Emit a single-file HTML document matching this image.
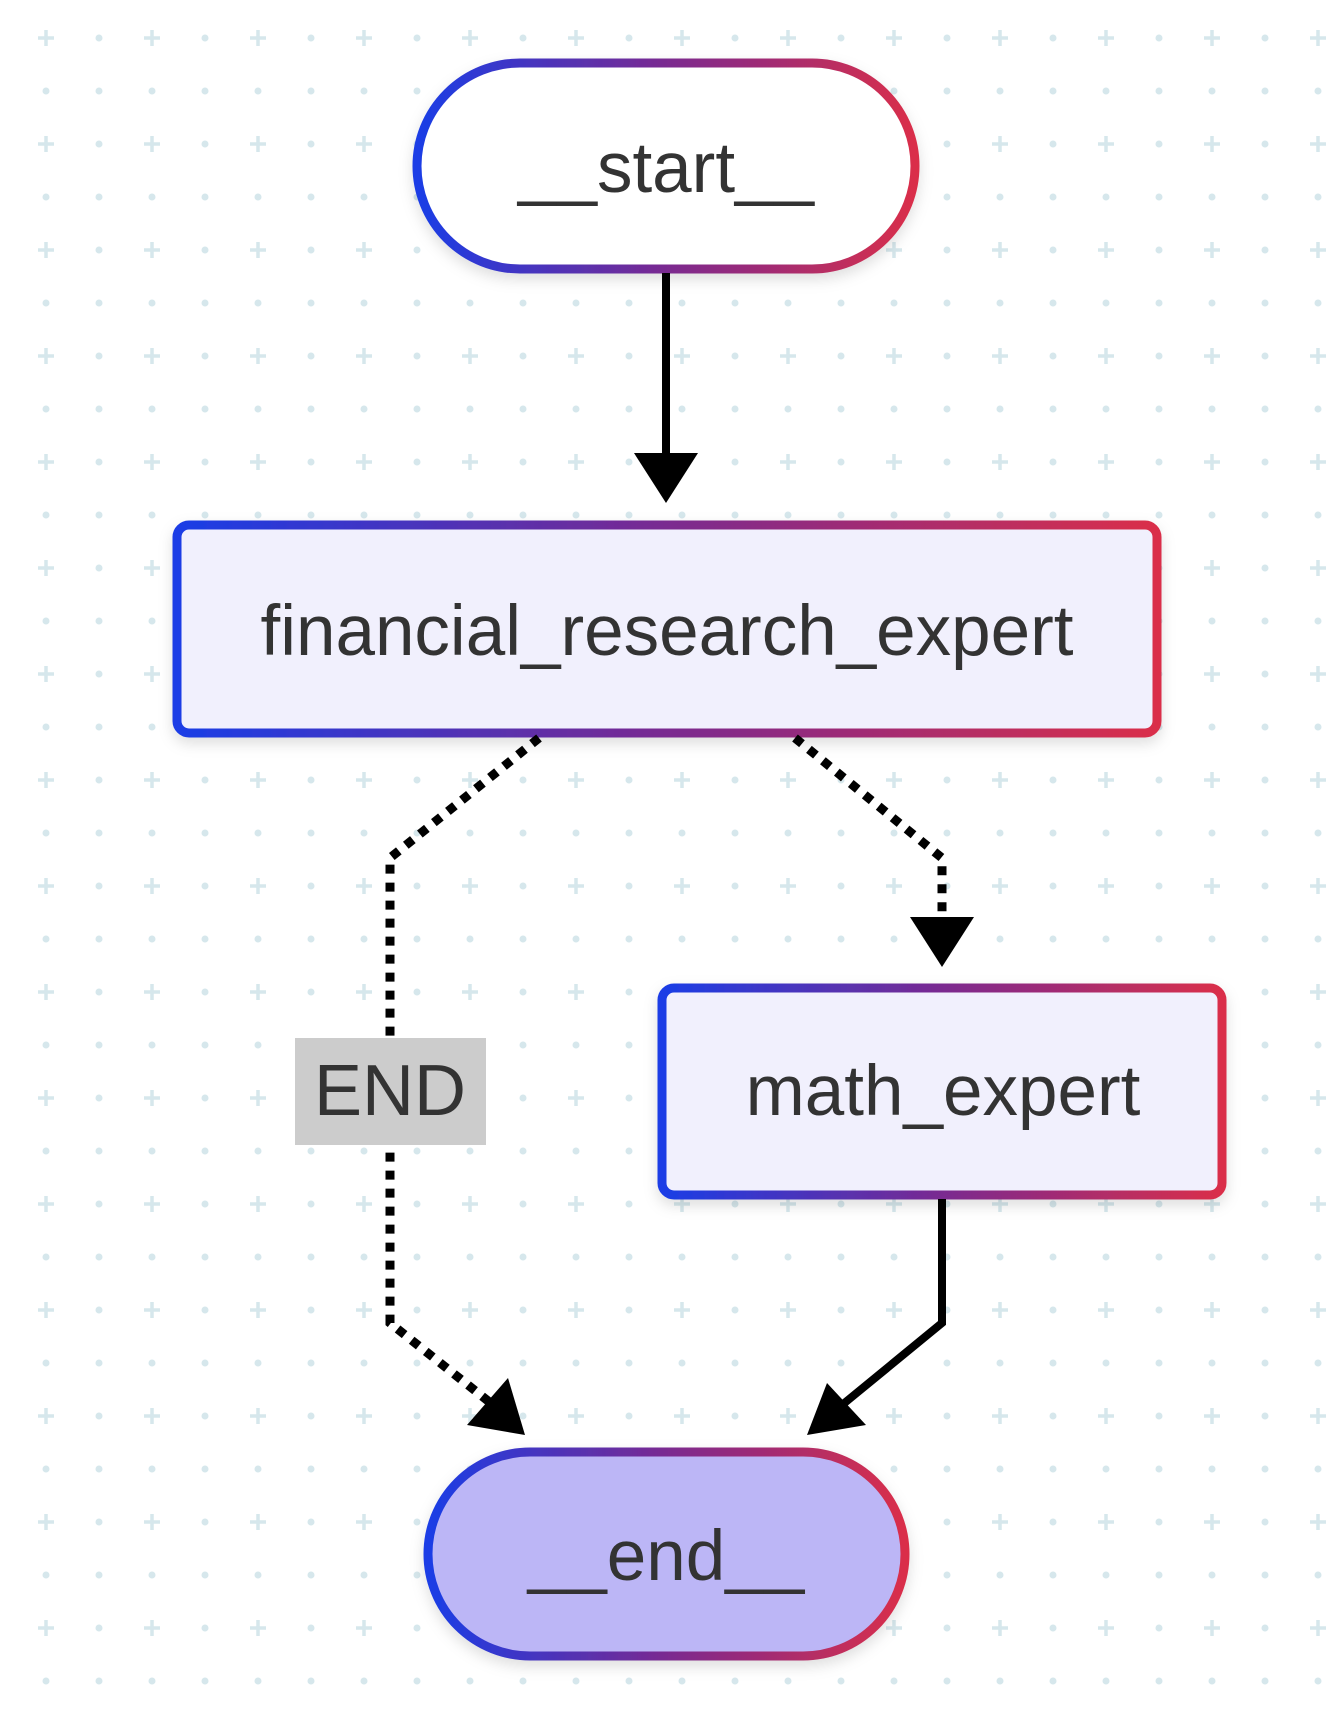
<!DOCTYPE html>
<html><head><meta charset="utf-8"><style>
html,body{margin:0;padding:0;background:#fff}
svg{display:block}
text{font-family:"Liberation Sans",Arial,sans-serif;fill:#333}
</style></head><body>
<svg width="1338" height="1714" viewBox="0 0 1338 1714" xmlns="http://www.w3.org/2000/svg">
<defs>
<pattern id="grid" x="20" y="12" width="106" height="106" patternUnits="userSpaceOnUse">
  <path d="M26 18v16M18 26h16" stroke="#d6e7ec" stroke-width="3.5"/>
  <circle cx="79" cy="26" r="3.5" fill="#d6e7ec"/>
  <circle cx="26" cy="79" r="3.5" fill="#d6e7ec"/>
  <circle cx="79" cy="79" r="3.5" fill="#d6e7ec"/>
</pattern>
<linearGradient id="g" x1="0" x2="1" y1="0" y2="0">
  <stop offset="0" stop-color="#1a3de6"/><stop offset="0.5" stop-color="#7a2a90"/><stop offset="1" stop-color="#da2f4a"/>
</linearGradient>
<filter id="sh" x="-10%" y="-10%" width="120%" height="130%">
  <feDropShadow dx="0" dy="6" stdDeviation="7" flood-color="#000" flood-opacity="0.13"/>
</filter>
</defs>
<rect width="1338" height="1714" fill="url(#grid)"/>

<rect x="417" y="63" width="498" height="206" rx="103" fill="#fff" stroke="url(#g)" stroke-width="9" filter="url(#sh)"/>
<text x="666" y="192" font-size="71" text-anchor="middle">__start__</text>

<line x1="666" y1="273" x2="666" y2="460" stroke="#000" stroke-width="8"/>
<polygon points="634,453 698,453 666,503" fill="#000"/>

<rect x="177" y="525" width="980" height="208" rx="12" fill="#f1f0fd" stroke="url(#g)" stroke-width="9" filter="url(#sh)"/>
<text x="667" y="655" font-size="71" text-anchor="middle">financial_research_expert</text>

<polyline points="539,738 390,858 390,1323 512,1420" fill="none" stroke="#000" stroke-width="9" stroke-dasharray="9 9"/>
<polygon points="467,1425 508,1378 525,1435" fill="#000"/>

<rect x="295" y="1038" width="191" height="107" fill="#cccccc"/>
<text x="390" y="1115" font-size="72" text-anchor="middle">END</text>

<polyline points="795,738 942,858 942,925" fill="none" stroke="#000" stroke-width="9" stroke-dasharray="9 9"/>
<polygon points="910,917 974,917 942,967" fill="#000"/>

<rect x="662" y="988" width="560" height="207" rx="12" fill="#f1f0fd" stroke="url(#g)" stroke-width="9" filter="url(#sh)"/>
<text x="943" y="1115" font-size="71" text-anchor="middle">math_expert</text>

<polyline points="942,1199 942,1323 842,1405" fill="none" stroke="#000" stroke-width="8"/>
<polygon points="827,1383 866,1425 807,1435" fill="#000"/>

<rect x="428" y="1452" width="477" height="204" rx="102" fill="#bcb6f6" stroke="url(#g)" stroke-width="9" filter="url(#sh)"/>
<text x="666" y="1580" font-size="71" text-anchor="middle">__end__</text>
</svg>
</body></html>
